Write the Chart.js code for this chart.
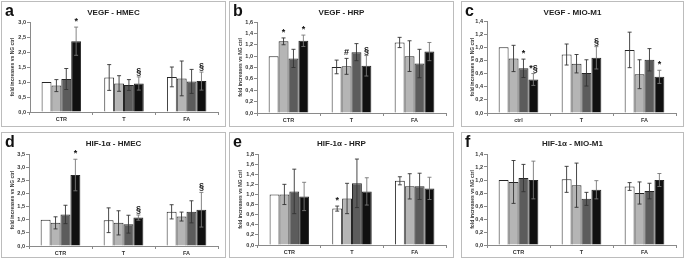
<!DOCTYPE html>
<html>
<head>
<meta charset="utf-8">
<script src="https://cdn.jsdelivr.net/npm/chart.js@4.4.1/dist/chart.umd.min.js"></script>
<style>
  body { margin: 0; background: #fff; width: 685px; height: 260px; position: relative; overflow: hidden; font-family: "Liberation Sans", Arial, sans-serif; }
  .panel { position: absolute; border: 1px solid #bcbcbc; box-sizing: border-box; }
  .panel canvas { position: absolute; left: 0; top: 0; }
  .letter { position: absolute; left: 3px; top: 0px; font-weight: bold; font-size: 16px; color: #111; }
  .title { position: absolute; left: 0; right: 0; top: 6px; text-align: center; font-weight: bold; font-size: 8px; color: #222; }
</style>
</head>
<body>
<script>
// categories
const catsUpper = ['CTR', 'T', 'FA'];
const catsCtrl = ['ctrl', 'T', 'FA'];

const panelLetters = ['a', 'b', 'c', 'd', 'e', 'f'];
const panelTitles = ['VEGF - HMEC', 'VEGF - HRP', 'VEGF - MIO-M1', 'HIF-1α - HMEC', 'HIF-1α - HRP', 'HIF-1α - MIO-M1'];
const yMaxes = [3.0, 1.6, 1.4, 3.5, 1.8, 1.4];
const ySteps = [0.5, 0.2, 0.2, 0.5, 0.2, 0.2];

const seriesNames = ['series 1', 'series 2', 'series 3', 'series 4'];
const seriesColors = ['#ffffff', '#b5b5b5', '#5c5c5c', '#101010'];

// means per series (white, light, dark, black) x category
const vegfHmecMean = [[1.00, 1.15, 1.17], [0.88, 0.95, 1.12], [1.10, 0.90, 1.02], [2.36, 0.95, 1.03]];
const vegfHmecErr  = [[0.00, 0.43, 0.33], [0.20, 0.26, 0.58], [0.35, 0.18, 0.40], [0.47, 0.22, 0.30]];
const vegfHmecMark = [['', '', ''], ['', '', ''], ['', '', ''], ['*', '§', '§']];

const vegfHrpMean = [[1.00, 0.81, 1.24], [1.26, 0.82, 1.00], [0.96, 1.07, 0.87], [1.27, 0.83, 1.08]];
const vegfHrpErr  = [[0.00, 0.12, 0.09], [0.06, 0.14, 0.27], [0.16, 0.15, 0.25], [0.10, 0.18, 0.16]];
const vegfHrpMark = [['', '', ''], ['*', '#', ''], ['', '', ''], ['*', '§', '']];

const vegfMioMean = [[1.00, 0.89, 0.96], [0.83, 0.75, 0.59], [0.68, 0.61, 0.81], [0.51, 0.84, 0.55]];
const vegfMioErr  = [[0.00, 0.16, 0.27], [0.20, 0.14, 0.22], [0.14, 0.20, 0.17], [0.09, 0.17, 0.10]];
const vegfMioMark = [['', '', ''], ['', '', ''], ['*', '', ''], ['*§', '§', '*']];

const hifHmecMean = [[1.00, 0.98, 1.30], [0.88, 0.88, 1.12], [1.20, 0.83, 1.30], [2.70, 1.08, 1.38]];
const hifHmecErr  = [[0.00, 0.47, 0.27], [0.23, 0.46, 0.17], [0.35, 0.34, 0.42], [0.60, 0.10, 0.66]];
const hifHmecMark = [['', '', ''], ['', '', ''], ['', '', ''], ['*', '§', '§']];

const hifHrpMean = [[1.00, 0.72, 1.27], [1.00, 0.92, 1.16], [1.06, 1.22, 1.16], [0.96, 1.06, 1.12]];
const hifHrpErr  = [[0.00, 0.05, 0.08], [0.20, 0.30, 0.25], [0.44, 0.48, 0.26], [0.28, 0.27, 0.22]];
const hifHrpMark = [['', '*', ''], ['', '', ''], ['', '', ''], ['', '', '']];

const hifMioMean = [[1.00, 1.01, 0.90], [0.97, 0.92, 0.80], [1.03, 0.71, 0.83], [1.00, 0.85, 1.00]];
const hifMioErr  = [[0.00, 0.20, 0.06], [0.33, 0.34, 0.17], [0.21, 0.10, 0.12], [0.29, 0.14, 0.10]];
const hifMioMark = [['', '', ''], ['', '', ''], ['', '', ''], ['', '', '']];

const panelCats = [catsUpper, catsUpper, catsCtrl, catsUpper, catsUpper, catsUpper];
const panelMeans = [vegfHmecMean, vegfHrpMean, vegfMioMean, hifHmecMean, hifHrpMean, hifMioMean];
const panelErrs = [vegfHmecErr, vegfHrpErr, vegfMioErr, hifHmecErr, hifHrpErr, hifMioErr];
const panelMarks = [vegfHmecMark, vegfHrpMark, vegfMioMark, hifHmecMark, hifHrpMark, hifMioMark];

// layout of the panels on the page
const boxes = [
  { left: 1, top: 1, w: 225, h: 126, axis: 28, top0: 20, bottom: 110 },
  { left: 229, top: 1, w: 225, h: 126, axis: 27, top0: 20, bottom: 111 },
  { left: 461, top: 1, w: 223, h: 126, axis: 25, top0: 19, bottom: 111 },
  { left: 1, top: 132, w: 225, h: 126, axis: 27, top0: 21, bottom: 113 },
  { left: 229, top: 132, w: 225, h: 126, axis: 28, top0: 21, bottom: 112 },
  { left: 461, top: 132, w: 223, h: 126, axis: 25, top0: 21, bottom: 112 }
];

const errorBarPlugin = {
  id: 'errorBars',
  afterDatasetsDraw(chart) {
    const ctx = chart.ctx;
    const y = chart.scales.y;
    ctx.save();
    chart.data.datasets.forEach((ds, i) => {
      const meta = chart.getDatasetMeta(i);
      meta.data.forEach((bar, j) => {
        const mean = ds.data[j];
        const err = ds.err[j];
        const yTop = y.getPixelForValue(mean + err);
        const yBot = y.getPixelForValue(mean - err);
        if (err > 0) {
          ctx.strokeStyle = i === 3 ? '#777' : '#333';
          ctx.lineWidth = 0.9;
          ctx.beginPath();
          ctx.moveTo(bar.x, yTop); ctx.lineTo(bar.x, yBot);
          ctx.moveTo(bar.x - 2, yTop); ctx.lineTo(bar.x + 2, yTop);
          ctx.moveTo(bar.x - 2, yBot); ctx.lineTo(bar.x + 2, yBot);
          ctx.stroke();
        }
        const mark = ds.marks[j];
        if (mark) {
          ctx.fillStyle = '#111';
          ctx.font = 'bold 9px "Liberation Sans", Arial, sans-serif';
          ctx.textAlign = 'center';
          ctx.textBaseline = 'bottom';
          ctx.fillText(mark, bar.x, yTop - 1);
        }
      });
    });
    ctx.restore();
  }
};

function makePanel(idx) {
  const b = boxes[idx];
  const panel = document.createElement('div');
  panel.className = 'panel';
  panel.style.left = b.left + 'px';
  panel.style.top = b.top + 'px';
  panel.style.width = b.w + 'px';
  panel.style.height = b.h + 'px';
  const canvas = document.createElement('canvas');
  const cw = b.w - 2, ch = b.h - 2;
  canvas.width = cw; canvas.height = ch;
  canvas.style.width = cw + 'px'; canvas.style.height = ch + 'px';
  panel.appendChild(canvas);
  const letter = document.createElement('div');
  letter.className = 'letter';
  letter.textContent = panelLetters[idx];
  panel.appendChild(letter);
  const title = document.createElement('div');
  title.className = 'title';
  title.textContent = panelTitles[idx];
  panel.appendChild(title);
  document.body.appendChild(panel);

  new Chart(canvas, {
    type: 'bar',
    data: {
      labels: panelCats[idx],
      datasets: seriesColors.map((color, s) => ({
        label: seriesNames[s],
        data: panelMeans[idx][s],
        err: panelErrs[idx][s],
        marks: panelMarks[idx][s],
        backgroundColor: color,
        borderColor: '#262626',
        borderWidth: 1,
        categoryPercentage: 0.63,
        barPercentage: 1.0
      }))
    },
    options: {
      responsive: false,
      animation: false,
      layout: { padding: { top: b.top0, right: 7, left: 0, bottom: 0 } },
      scales: {
        x: {
          afterFit: (s) => { s.height = ch - b.bottom; },
          border: { display: true, color: '#8a8a8a', width: 1 },
          grid: { display: true, drawOnChartArea: false, tickLength: 3, color: '#8a8a8a', offset: true },
          ticks: { color: '#333', font: { size: 5.5, weight: 'bold', family: '"Liberation Sans", Arial' }, padding: 1, maxRotation: 0 }
        },
        y: {
          min: 0,
          max: yMaxes[idx],
          afterFit: (s) => { s.width = b.axis; },
          border: { display: true, color: '#8a8a8a', width: 1 },
          grid: { display: true, drawOnChartArea: false, tickLength: 3, color: '#8a8a8a' },
          ticks: {
            stepSize: ySteps[idx],
            color: '#333',
            padding: 1,
            font: { size: 5.5, weight: 'bold', family: '"Liberation Sans", Arial' },
            callback: (v) => v.toFixed(1).replace('.', ',')
          },
          title: {
            display: true,
            text: 'fold increases vs NG ctrl',
            color: '#333',
            font: { size: 5, weight: 'bold', family: '"Liberation Sans", Arial' },
            padding: { top: 8, bottom: 0 }
          }
        }
      },
      plugins: {
        legend: { display: false },
        tooltip: { enabled: false }
      }
    },
    plugins: [errorBarPlugin]
  });
}

for (let i = 0; i < 6; i++) makePanel(i);
</script>
</body>
</html>
